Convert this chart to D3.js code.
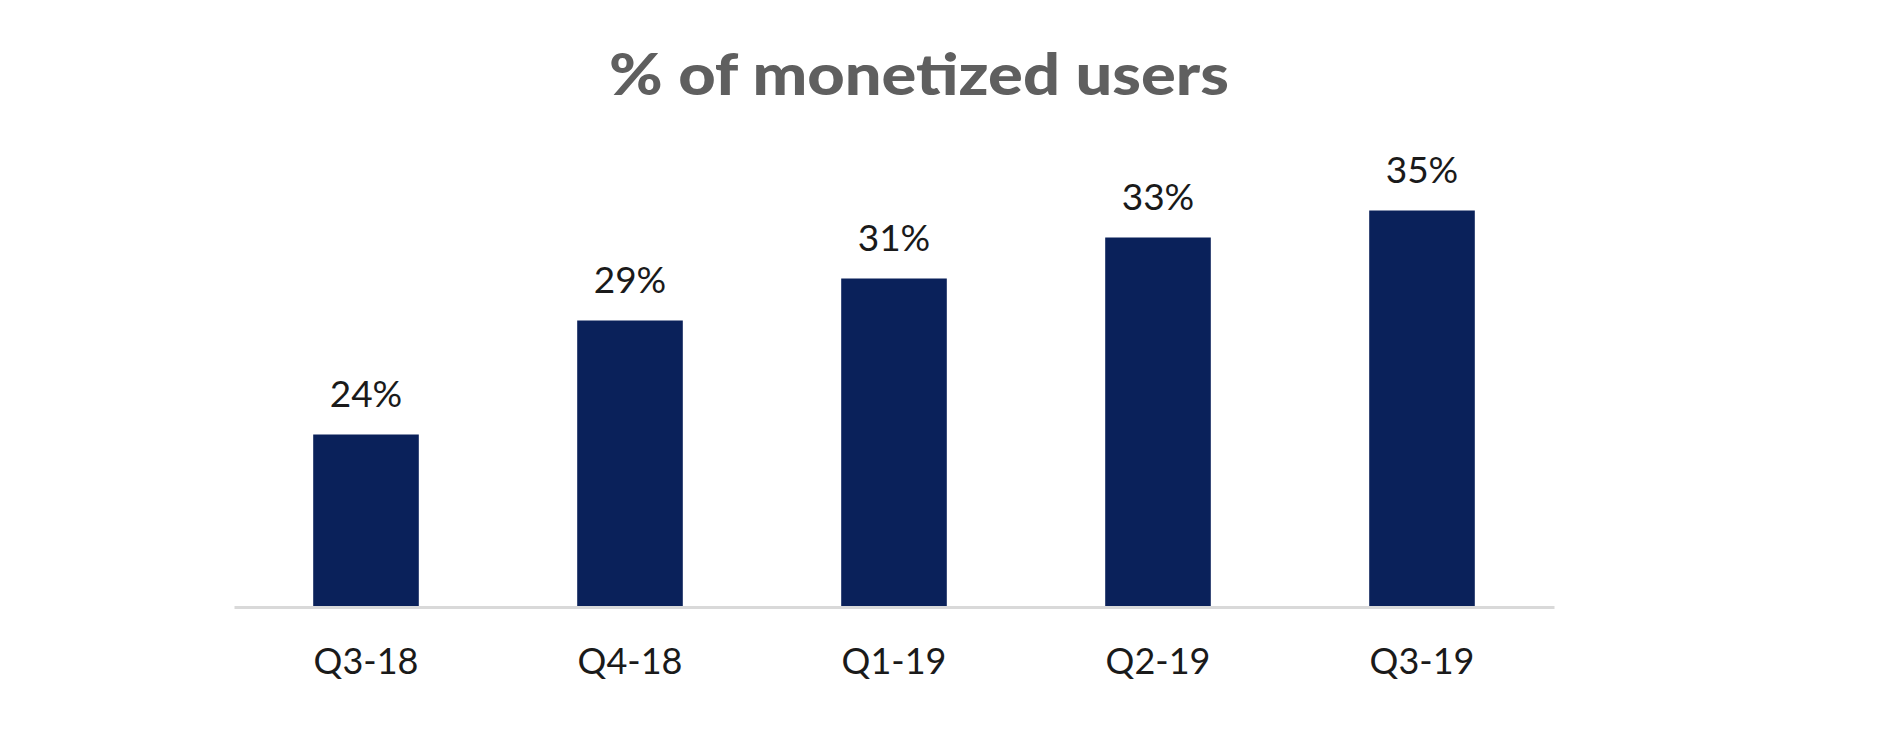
<!DOCTYPE html>
<html>
<head>
<meta charset="utf-8">
<script src="https://cdn.jsdelivr.net/npm/d3@7"></script>
<style>
  html, body { margin: 0; padding: 0; background: #ffffff; }
  svg { display: block; }
</style>
</head>
<body>
<svg id="chart" width="1880" height="740"></svg>
<script>
// ---- data ----
const title = "% of monetized users";
const categories = ["Q3-18", "Q4-18", "Q1-19", "Q2-19", "Q3-19"];
const values = [23.6, 29.3, 31.4, 33.45, 34.8];   // percent
const valueLabels = ["24%", "29%", "31%", "33%", "35%"];

// ---- layout ----
const svg = d3.select("#chart");
const W = 1880, H = 740;
svg.append("rect").attr("width", W).attr("height", H).attr("fill", "#ffffff");

const x = d3.scaleBand()
  .domain(categories)
  .range([234, 1554])
  .paddingInner(0.6)
  .paddingOuter(0.3);

const y = d3.scaleLinear()
  .domain([15, 35])
  .range([606.5, 206.5]);

// bars
svg.append("g").selectAll("rect")
  .data(values)
  .join("rect")
  .attr("x", (d, i) => x(categories[i]))
  .attr("width", x.bandwidth())
  .attr("y", d => y(d))
  .attr("height", d => y(15) - y(d))
  .attr("fill", "#0a215a");

// baseline axis
const xAxis = d3.axisBottom(x).tickSize(0).tickPadding(41);
const gx = svg.append("g")
  .attr("transform", `translate(0,${y(15) + 0.5})`)
  .call(xAxis);
gx.select(".domain").attr("stroke", "#d9d9d9").attr("stroke-width", 3);
gx.selectAll(".tick text")
  .attr("font-family", "Lato, 'Open Sans', sans-serif")
  .attr("font-size", 36)
  .attr("fill", "#1a1a1a");

// value labels
svg.append("g").selectAll("text")
  .data(values)
  .join("text")
  .attr("x", (d, i) => x(categories[i]) + x.bandwidth() / 2)
  .attr("y", d => y(d) - 28)
  .attr("text-anchor", "middle")
  .attr("font-family", "Lato, 'Open Sans', sans-serif")
  .attr("font-size", 37)
  .attr("fill", "#1a1a1a")
  .text((d, i) => valueLabels[i]);

// title
svg.append("text")
  .attr("x", 919)
  .attr("y", 95)
  .attr("text-anchor", "middle")
  .attr("font-family", "Lato, 'Open Sans', sans-serif")
  .attr("font-weight", 900)
  .attr("font-size", 58)
  .attr("fill", "#5f5f5f")
  .attr("textLength", 620)
  .attr("lengthAdjust", "spacingAndGlyphs")
  .text(title);
</script>
</body>
</html>
